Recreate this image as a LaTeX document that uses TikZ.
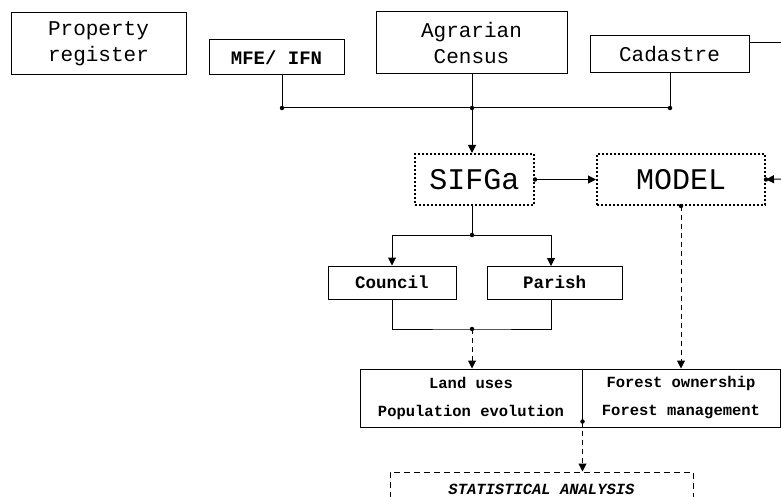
\documentclass[tikz,border=0pt]{standalone}
\usepackage{fontspec}
\setmonofont{Liberation Mono}
\usetikzlibrary{positioning, arrows.meta}

\tikzset{
  box/.style={draw, line width=1pt, inner sep=0pt, align=center, font=\ttfamily},
  dotbox/.style={box, line width=2pt, dash pattern=on 2pt off 2pt},
  dashbox/.style={box, dash pattern=on 6pt off 4pt},
  link/.style={line width=1pt},
  arr/.style={link, -{Triangle[length=8pt,width=8pt]}},
  dasharr/.style={arr, dash pattern=on 5pt off 4pt},
  junc/.style={circle, fill, inner sep=0pt, minimum size=4.5pt},
}

\begin{document}
\begin{tikzpicture}[x=1pt, y=-1pt]
		\useasboundingbox (0,0) rectangle (781,497);
		\clip (0,0) rectangle (781,497);

		% Sources
		\node[box, minimum width=175pt, minimum height=62pt, font=\ttfamily\fontsize{21}{26}\selectfont] (prop) at (98.5,44) {Property\\register};
		\node[box, minimum width=135pt, minimum height=35pt, font=\ttfamily\bfseries\fontsize{19}{24}\selectfont] (mfe) at (276.5,57.5) {MFE/ IFN};
		\node[box, minimum width=191pt, minimum height=62pt, font=\ttfamily\fontsize{21}{26}\selectfont] (agr) at (471.5,43) {Agrarian\\Census};
		\node[box, minimum width=159pt, minimum height=37pt, font=\ttfamily\fontsize{21}{26}\selectfont] (cad) at (669.5,54.5) {Cadastre};

		% Systems
		\node[dotbox, minimum width=119pt, minimum height=51pt, font=\ttfamily\fontsize{30}{34}\selectfont] (sifga) at (474.5,179.5) {SIFGa};
		\node[dotbox, minimum width=168pt, minimum height=51pt, font=\ttfamily\fontsize{30}{34}\selectfont] (model) at (681,179.5) {MODEL};

		% Administrative levels
		\node[box, minimum width=128pt, minimum height=33pt, font=\ttfamily\bfseries\fontsize{17.5}{22}\selectfont] (council) at (392,282.5) {Council};
		\node[box, minimum width=135pt, minimum height=33pt, font=\ttfamily\bfseries\fontsize{17.5}{22}\selectfont] (parish) at (554.5,282.5) {Parish};

		% Results
		\node[box, minimum width=222pt, minimum height=58pt, font=\ttfamily\bfseries\fontsize{15.5}{28}\selectfont] (landuse) at (471,398) {Land uses\\Population evolution};
		\node[box, minimum width=198pt, minimum height=58pt, font=\ttfamily\bfseries\fontsize{15.5}{28}\selectfont] (forest) at (681,398) {Forest ownership\\Forest management};
		\node[dashbox, minimum width=303pt, minimum height=34pt, font=\ttfamily\bfseries\itshape\fontsize{15.5}{20}\selectfont] (stat) at (541.5,489) {STATISTICAL ANALYSIS};

		% Junctions
		\coordinate (jm) at (282,108);
		\coordinate (ja) at (472,108);
		\coordinate (jc) at (670,108);
		\coordinate (js) at (472,235);
		\coordinate (jl) at (472,329);
		\coordinate (redge) at (781,43);
		\coordinate (medge) at (781,179);

		% Bus to SIFGa
		\draw[link] (jm |- mfe.south) -- (jm) -- (jc) -- (jc |- cad.south);
		\draw[link] (ja |- agr.south) -- (ja);
		\draw[arr] (ja) -- (ja |- sifga.north);
		\draw[link] (cad.east |- redge) -- (redge);
		\node[junc] at (jm) {};
		\node[junc] at (ja) {};
		\node[junc] at (jc) {};

		% SIFGa and MODEL
		\draw[arr] (sifga.east) -- (model.west);
		\draw[arr] (medge) -- (model.east);
		\node[junc] at (sifga.east) {};
		\node[junc] at (model.east) {};

		% Split to council and parish
		\draw[link] (js |- sifga.south) -- (js);
		\draw[arr] (js) -| (council.north);
		\draw[arr] (js) -| (551,266);
		\node[junc] at (js) {};
		\draw[link] (council.south) |- (jl) -| (551,299);
		\node[junc] at (jl) {};

		% Dashed flows
		\draw[dasharr] (jl) -- (landuse.north -| jl);
		\draw[dasharr] (model.south) -- (model.south |- forest.north);
		\node[junc] at (model.south) {};
		\draw[dasharr] ([yshift=6pt]landuse.south east) -- (landuse.south east |- stat.north);
		\node[junc] at ([yshift=6pt]landuse.south east) {};
	\end{tikzpicture}
\end{document}
